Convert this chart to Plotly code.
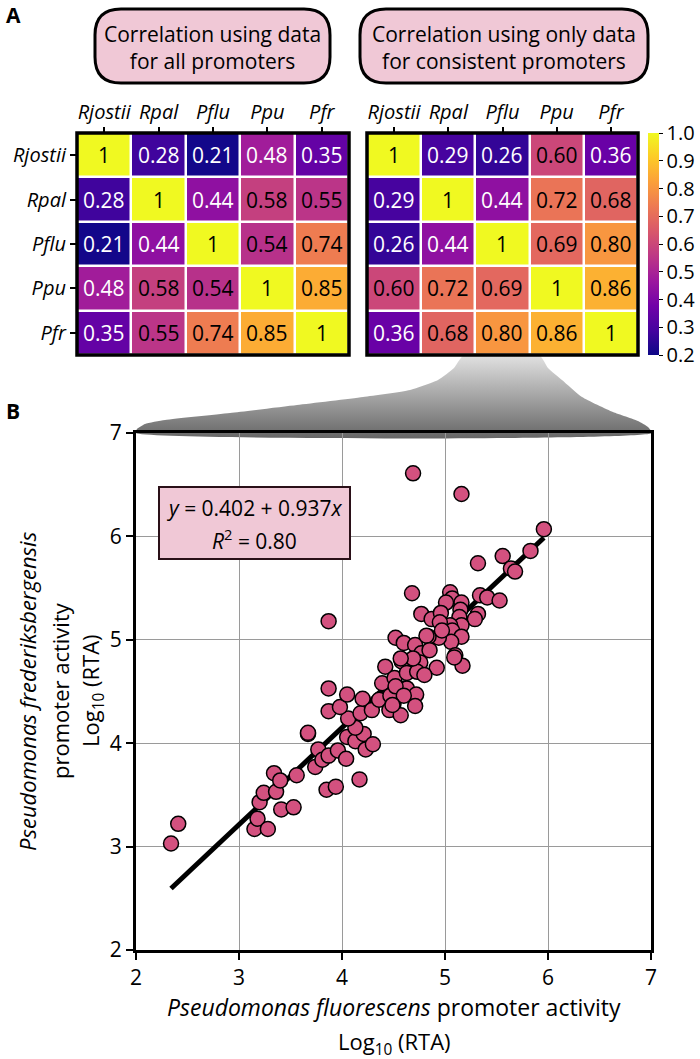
import plotly.graph_objects as go

# ---------------- data ----------------
species = ["Rjostii", "Rpal", "Pflu", "Ppu", "Pfr"]

corr_all = [
    [1.00, 0.28, 0.21, 0.48, 0.35],
    [0.28, 1.00, 0.44, 0.58, 0.55],
    [0.21, 0.44, 1.00, 0.54, 0.74],
    [0.48, 0.58, 0.54, 1.00, 0.85],
    [0.35, 0.55, 0.74, 0.85, 1.00],
]
corr_consistent = [
    [1.00, 0.29, 0.26, 0.60, 0.36],
    [0.29, 1.00, 0.44, 0.72, 0.68],
    [0.26, 0.44, 1.00, 0.69, 0.80],
    [0.60, 0.72, 0.69, 1.00, 0.86],
    [0.36, 0.68, 0.80, 0.86, 1.00],
]
colorbar_ticks = [0.2, 0.3, 0.4, 0.5, 0.6, 0.7, 0.8, 0.9, 1.0]

pflu_activity = [
    2.34, 2.41, 3.15, 3.18, 3.28, 3.20, 3.24, 3.36, 3.41, 3.53,
    3.34, 3.40, 3.56, 3.67, 3.74, 3.77, 3.81, 3.87, 3.85, 3.94,
    3.96, 4.04, 4.17, 4.05, 4.13, 4.21, 4.23, 4.30, 4.13, 4.06,
    3.87, 3.87, 3.98, 4.05, 4.18, 4.20, 4.29, 4.36, 4.42, 4.39,
    4.46, 4.50, 4.57, 4.52, 4.60, 4.58, 4.51, 4.47, 4.61, 3.87,
    4.69, 5.16, 5.96, 5.83, 5.56, 5.64, 5.68, 5.32, 4.68, 5.05,
    5.07, 5.16, 5.01, 5.34, 5.41, 5.53, 4.77, 4.87, 4.96, 5.15,
    5.14, 5.32, 5.29, 5.16, 5.05, 4.95, 5.07, 5.16, 5.06, 4.94,
    4.84, 4.71, 4.77, 5.10, 4.82, 4.97, 5.17, 5.09, 4.92, 4.76,
    4.63, 4.73, 4.80, 4.63, 4.52, 4.72, 4.60, 4.49, 4.71, 4.85,
    4.69, 4.57, 3.67,
]
pfr_activity = [
    3.03, 3.22, 3.17, 3.27, 3.17, 3.43, 3.52, 3.53, 3.36, 3.38,
    3.71, 3.64, 3.69, 4.09, 3.77, 3.94, 3.84, 3.88, 3.55, 3.58,
    3.93, 3.85, 3.65, 4.06, 4.02, 4.09, 3.94, 3.99, 4.15, 4.24,
    4.53, 4.31, 4.35, 4.47, 4.29, 4.43, 4.32, 4.42, 4.74, 4.58,
    4.32, 4.38, 4.27, 5.02, 4.97, 4.79, 4.63, 4.46, 4.53, 5.18,
    6.61, 6.41, 6.07, 5.86, 5.81, 5.69, 5.66, 5.74, 5.45, 5.46,
    5.40, 5.36, 5.36, 5.43, 5.41, 5.38, 5.25, 5.20, 5.26, 5.29,
    5.22, 5.25, 5.20, 5.14, 5.14, 5.17, 5.09, 5.03, 4.98, 5.02,
    5.03, 4.95, 4.87, 4.85, 5.04, 5.09, 4.75, 4.83, 4.73, 4.78,
    4.68, 4.69, 4.66, 4.53, 4.55, 4.47, 4.46, 4.37, 4.36, 4.90,
    4.82, 4.82, 4.10,
]
fit_intercept = 0.402
fit_slope = 0.937
fit_r2 = 0.80

# ---------------- layout helpers ----------------
W, H = 700, 1059
FONT = "Open Sans"
PINK = "#f0c8d6"


def fx(x):
    return x / W


def fy(y):
    return 1 - y / H


def rrect_path(x0, y0, x1, y1, r):
    p = [
        ("M", [(x0 + r, y0)]), ("L", [(x1 - r, y0)]), ("Q", [(x1, y0), (x1, y0 + r)]),
        ("L", [(x1, y1 - r)]), ("Q", [(x1, y1), (x1 - r, y1)]), ("L", [(x0 + r, y1)]),
        ("Q", [(x0, y1), (x0, y1 - r)]), ("L", [(x0, y0 + r)]), ("Q", [(x0, y0), (x0 + r, y0)]),
    ]
    s = ""
    for cmd, pts in p:
        s += cmd + " " + " ".join(f"{fx(a):.5f},{fy(b):.5f}" for a, b in pts) + " "
    return s + "Z"


def paper_text(x, y, text, size, **kw):
    d = dict(x=fx(x), y=fy(y), xref="paper", yref="paper", text=text, showarrow=False,
             xanchor="center", yanchor="middle",
             font=dict(size=size, family=FONT, color="black"))
    d.update(kw)
    return d


fig = go.Figure()

# ---------------- heatmaps ----------------
hm_y = [fy(355), fy(133)]
panels = [
    (corr_all, "x", "y", [fx(77), fx(349)], True, False),
    (corr_consistent, "x2", "y2", [fx(367), fx(638)], False, True),
]
annotations = []
for z, xa, ya, dom, show_rows, show_cb in panels:
    fig.add_trace(go.Heatmap(
        z=z, x=species, y=species, xaxis=xa, yaxis=ya,
        colorscale="Plasma", zmin=0.2, zmax=1.0, xgap=2.5, ygap=2.5,
        showscale=show_cb, hoverinfo="skip",
        colorbar=dict(
            x=fx(648), xanchor="left", xpad=0, y=fy(244), yanchor="middle", ypad=0,
            len=222 / H, lenmode="fraction", thickness=11, outlinewidth=0,
            tickvals=colorbar_ticks, ticktext=[f"{v:.1f}" for v in colorbar_ticks],
            ticks="outside", ticklen=4, tickcolor="black",
            tickfont=dict(size=20, color="black", family=FONT),
        ),
    ))
    for i, row in enumerate(z):
        for j, v in enumerate(row):
            annotations.append(dict(
                x=species[j], y=species[i], xref=xa, yref=ya,
                text="1" if v == 1 else f"{v:.2f}", showarrow=False,
                xanchor="center", yanchor="middle",
                font=dict(size=21, family=FONT, color="white" if v < 0.5 else "black"),
            ))
    axn = "xaxis" if xa == "x" else "xaxis2"
    ayn = "yaxis" if ya == "y" else "yaxis2"
    fig.update_layout(**{
        axn: dict(domain=dom, anchor=ya, side="top", showgrid=False, zeroline=False,
                  ticks="outside", ticklen=5, tickwidth=1.5, tickcolor="black",
                  tickfont=dict(size=20, family=FONT, color="black", style="italic"),
                  fixedrange=True),
        ayn: dict(domain=hm_y, anchor=xa, autorange="reversed", showgrid=False, zeroline=False,
                  ticks="outside" if show_rows else "", ticklen=6, tickwidth=1.5, tickcolor="black",
                  showticklabels=show_rows,
                  tickfont=dict(size=20, family=FONT, color="black", style="italic"),
                  fixedrange=True),
    })

shapes = []
for xa, ya in [("x", "y"), ("x2", "y2")]:
    shapes.append(dict(type="rect", xref=f"{xa} domain", yref=f"{ya} domain",
                       x0=0, x1=1, y0=0, y1=1, line=dict(color="black", width=3.5)))

# title boxes
for (x0, x1), txt in [((95, 330), "Correlation using data<br>for all promoters"),
                      ((360, 648), "Correlation using only data<br>for consistent promoters")]:
    shapes.append(dict(type="path", xref="paper", yref="paper",
                       path=rrect_path(x0, 9, x1, 83, 26),
                       fillcolor=PINK, line=dict(color="black", width=3)))
    annotations.append(paper_text((x0 + x1) / 2, 47, txt, 21))

# ---------------- funnel (decorative) ----------------
fun_x = [136, 137, 145, 165, 230, 297, 363, 410, 438, 454, 463, 540, 548, 562, 582, 613, 638, 648, 652, 136]
fun_y = [433, 429, 424, 420, 413, 405, 397, 390, 380, 368, 356, 356, 368, 380, 397, 412, 421, 427, 433, 433]
fig.add_trace(go.Scatter(
    x=fun_x, y=[H - v for v in fun_y], xaxis="x3", yaxis="y3",
    mode="lines", line=dict(width=0, shape="spline", smoothing=0.5),
    fill="toself", fillgradient=dict(type="vertical",
                                     colorscale=[[0, "#666666"], [1, "#e4e4e4"]]),
    hoverinfo="skip", showlegend=False,
))
fig.update_layout(
    xaxis3=dict(domain=[0, 1], range=[0, W], visible=False, anchor="y3", fixedrange=True),
    yaxis3=dict(domain=[0, 1], range=[0, H], visible=False, anchor="x3", fixedrange=True),
)

# ---------------- scatter ----------------
x_line = [min(pflu_activity), max(pflu_activity)]
fig.add_trace(go.Scatter(
    x=x_line, y=[fit_intercept + fit_slope * v for v in x_line],
    xaxis="x4", yaxis="y4", mode="lines",
    line=dict(color="black", width=5), hoverinfo="skip", showlegend=False,
))
fig.add_trace(go.Scatter(
    x=pflu_activity, y=pfr_activity, xaxis="x4", yaxis="y4", mode="markers",
    marker=dict(size=15, color="#d3517f", line=dict(color="black", width=1.5)),
    showlegend=False,
))
ax_common = dict(range=[2, 7], dtick=1, showgrid=True, gridcolor="#9a9a9a", gridwidth=1,
                 zeroline=False, showline=True, linewidth=3, linecolor="black", mirror=True,
                 ticks="outside", ticklen=7, tickwidth=2, tickcolor="black",
                 tickfont=dict(size=21, family=FONT, color="black"), fixedrange=True)
fig.update_layout(
    xaxis4=dict(domain=[fx(136), fx(651)], anchor="y4", **ax_common),
    yaxis4=dict(domain=[fy(950), fy(433)], anchor="x4", **ax_common),
)

# equation box
shapes.append(dict(type="rect", xref="paper", yref="paper",
                   x0=fx(159), x1=fx(350), y0=fy(559), y1=fy(487),
                   fillcolor=PINK, line=dict(color="#2a1018", width=2)))
annotations.append(paper_text(
    254.5, 508, f"<i>y</i> = {fit_intercept:.3f} + {fit_slope:.3f}<i>x</i>", 21))
annotations.append(paper_text(
    254.5, 539, f"<i>R</i><sup>2</sup> = {fit_r2:.2f}", 21))

# axis titles (one annotation per line)
annotations.append(paper_text(394, 1007, "<i>Pseudomonas fluorescens</i> promoter activity", 23))
annotations.append(paper_text(394, 1043, "Log<sub>10</sub> (RTA)", 22))
annotations.append(paper_text(27, 691, "<i>Pseudomonas frederiksbergensis</i>", 22, textangle=-90))
annotations.append(paper_text(60, 691, "promoter activity", 22, textangle=-90))
annotations.append(paper_text(92, 691, "Log<sub>10</sub> (RTA)", 22, textangle=-90))

# panel letters
for letter, yy in [("A", 15), ("B", 411)]:
    annotations.append(paper_text(4, yy, f"<b>{letter}</b>", 21, xanchor="left"))

fig.update_layout(
    width=W, height=H, autosize=False,
    margin=dict(l=0, r=0, t=0, b=0, autoexpand=False),
    paper_bgcolor="white", plot_bgcolor="rgba(0,0,0,0)",
    shapes=shapes, annotations=annotations, showlegend=False,
    font=dict(family=FONT, color="black"),
)

fig.write_html(
    "out.html", config={"displayModeBar": False},
    post_script=("document.body.style.margin='0';document.body.style.overflow='hidden';"
                 "document.documentElement.style.overflow='hidden';"),
)
